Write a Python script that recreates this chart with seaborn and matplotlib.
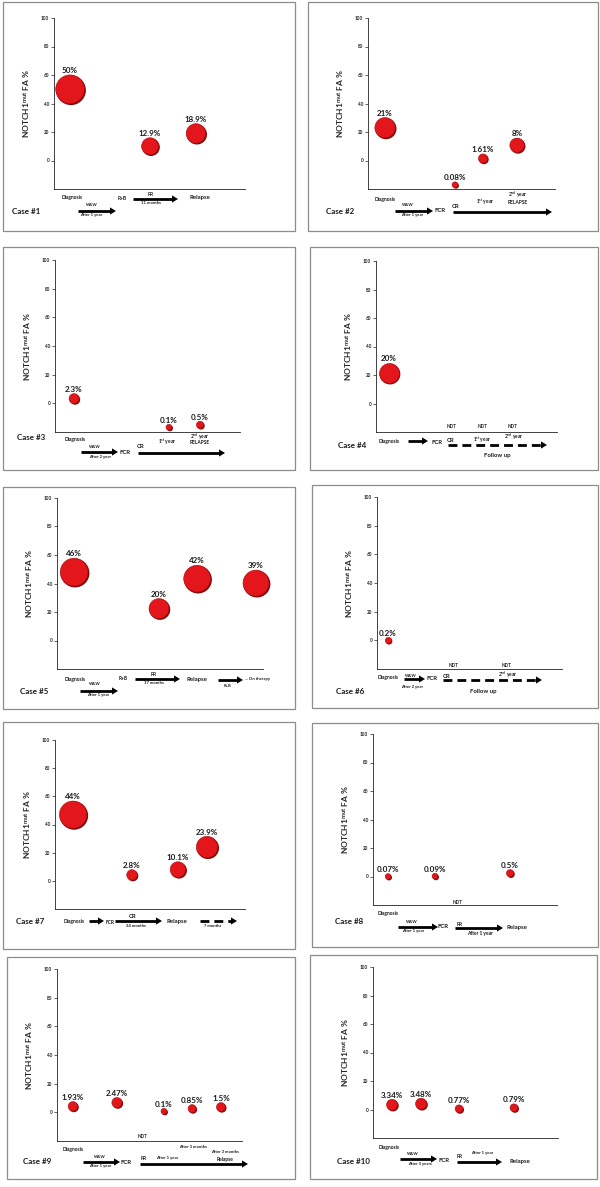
import numpy as np
import pandas as pd
import seaborn as sns
import matplotlib.pyplot as plt
from matplotlib import transforms
from matplotlib.patches import Rectangle, Polygon

sns.set_style("white")
plt.rcParams['font.family'] = ['Lato', 'DejaVu Sans']
plt.rcParams['mathtext.fontset'] = 'custom'
plt.rcParams['mathtext.rm'] = 'Lato'
plt.rcParams['mathtext.bf'] = 'Lato:bold'
plt.rcParams['mathtext.it'] = 'Lato:italic'

# ---- data: x = position on the timeline, y = plotted level, fa = NOTCH1 FA % label
case1_x = [0.84, 5.03, 7.43]
case1_y = [50, 10, 19]
case1_fa = [50, 12.9, 18.9]

case2_x = [0.91, 4.65, 6.15, 7.97]
case2_y = [23, -17, 1.4, 10.7]
case2_fa = [21, 0.08, 1.61, 8]

case3_x = [1.03, 6.16, 7.84]
case3_y = [3.3, -16.7, -15]
case3_fa = [2.3, 0.1, 0.5]

case4_x = [0.72]
case4_y = [21.3]
case4_fa = [20]

case5_x = [0.83, 4.95, 6.8, 9.66]
case5_y = [48, 22.4, 43.4, 40.3]
case5_fa = [46, 20, 42, 39]

case6_x = [0.6]
case6_y = [0]
case6_fa = [0.2]

case7_x = [0.95, 4.05, 6.47, 8.0]
case7_y = [47, 4.2, 8, 24]
case7_fa = [44, 2.8, 10.1, 23.9]

case8_x = [0.82, 3.37, 7.45]
case8_y = [0, 0.2, 2.3]
case8_fa = [0.07, 0.09, 0.5]

case9_x = [0.86, 3.24, 5.78, 7.3, 8.86]
case9_y = [4.2, 6.8, 0.7, 2.6, 3.7]
case9_fa = [1.93, 2.47, 0.1, 0.85, 1.5]

case10_x = [1.03, 2.6, 4.65, 7.62]
case10_y = [3.3, 4, 0.5, 1.2]
case10_fa = [3.34, 3.48, 0.77, 0.79]

# "NDT" (not detected) time points
ndt = {4: ([4.2, 5.9, 7.57], -16), 6: ([4.16, 7.03], -17.5),
       8: ([4.57], -18), 9: ([4.6], -17)}

cases = [(case1_x, case1_y, case1_fa), (case2_x, case2_y, case2_fa),
         (case3_x, case3_y, case3_fa), (case4_x, case4_y, case4_fa),
         (case5_x, case5_y, case5_fa), (case6_x, case6_y, case6_fa),
         (case7_x, case7_y, case7_fa), (case8_x, case8_y, case8_fa),
         (case9_x, case9_y, case9_fa), (case10_x, case10_y, case10_fa)]

# ---- layout in pixels (x0, y_top, x1, y_bottom)
W, H = 600, 1187
axes_px = [(54, 18, 245, 189), (368, 18, 555, 189),
           (55, 260, 240, 432), (376, 261, 557, 432),
           (57, 498, 263, 669), (377, 497, 562, 669),
           (55, 740, 245, 909), (373, 734, 557, 905),
           (57, 969, 242, 1141), (373, 967, 558, 1138)]
box_px = [(3, 2, 295, 231), (308, 2, 598, 231),
          (3, 247, 295, 470), (310, 247, 598, 470),
          (3, 487, 295, 709), (312, 485, 598, 708),
          (3, 722, 295, 949), (312, 723, 598, 947),
          (7, 957, 295, 1179), (310, 955, 597, 1179)]

fig = plt.figure(figsize=(6, 11.87), dpi=100)
fig.patch.set_facecolor('white')

for i, ((xs, ys, fa), (x0, yt, x1, yb)) in enumerate(zip(cases, axes_px)):
    ax = fig.add_axes([x0 / W, 1 - yb / H, (x1 - x0) / W, (yb - yt) / H])
    df = pd.DataFrame({'x': xs, 'y': ys, 'fa': fa})
    diam_px = 5 + 3.5 * np.sqrt(df['fa'])
    area = (diam_px * 0.72) ** 2
    shadow = transforms.offset_copy(ax.transData, fig=fig, x=0.7, y=-0.7, units='points')
    sns.scatterplot(data=df, x='x', y='y', s=area, color='#7d0a0a', edgecolor='none',
                    transform=shadow, ax=ax, legend=False, zorder=3, clip_on=False)
    sns.scatterplot(data=df, x='x', y='y', s=area * 0.93, color='#e3161c', edgecolor='#a50d10',
                    linewidth=0.4, ax=ax, legend=False, zorder=4, clip_on=False)
    for xv, yv, v, d in zip(df['x'], df['y'], df['fa'], diam_px):
        ax.annotate(f"{v:g}%", (xv, yv), xytext=(0, d * 0.72 / 2 + 0.3), textcoords='offset points',
                    ha='center', va='bottom', fontsize=5.8, fontweight='bold', color='#1a1a1a')
    if i + 1 in ndt:
        nx, ny = ndt[i + 1]
        for xv in nx:
            ax.text(xv, ny, 'NDT', ha='center', va='center', fontsize=3.3, fontweight='bold', color='#222')
    ax.set_xlim(0, 10)
    ax.set_ylim(-20, 100)
    ax.set_yticks(range(0, 101, 20))
    ax.set_xticks([])
    ax.set_xlabel('')
    ax.set_facecolor('none')
    for s in ['top', 'right']:
        ax.spines[s].set_visible(False)
    for s in ['left', 'bottom']:
        ax.spines[s].set_linewidth(0.6)
        ax.spines[s].set_color('#222')
    ax.tick_params(axis='y', left=True, length=2, width=0.5, labelsize=3.3, pad=1.5, colors='#222')
    for lab in ax.get_yticklabels():
        lab.set_fontweight('bold')
    ax.set_ylabel(r"NOTCH1$^{\mathbf{mut}}$ FA %", fontsize=6, fontweight='bold', labelpad=6)

# ---- overlay for boxes and timelines (pixel coordinates)
ov = fig.add_axes([0, 0, 1, 1], zorder=10)
ov.set_xlim(0, W)
ov.set_ylim(H, 0)
ov.axis('off')
ov.patch.set_alpha(0)

for (bx0, by0, bx1, by1) in box_px:
    ov.add_patch(Rectangle((bx0, by0), bx1 - bx0, by1 - by0, fill=False, ec='#8c8c8c', lw=0.9))

XS, S, M = 3.0, 3.5, 4.3


def arrow(x0, x1, y, dashed=False):
    hl, hw = 6, 3.6
    if dashed:
        ov.plot([x0, x1 - hl], [y, y], color='k', lw=2.0, dashes=(3.2, 1.8), solid_capstyle='butt')
    else:
        ov.plot([x0, x1 - hl + 0.5], [y, y], color='k', lw=2.0, solid_capstyle='butt')
    ov.add_patch(Polygon([(x1 - hl, y - hw), (x1, y), (x1 - hl, y + hw)], closed=True, color='k', lw=0))


def txt(x, y, s, size, ha='center'):
    ov.text(x, y, s, ha=ha, va='center', fontsize=size, fontweight='bold', color='#1a1a1a')


st = r"1$^{\mathbf{st}}$ year"
nd = r"2$^{\mathbf{nd}}$ year"

# case 1
txt(12, 211, 'Case #1', 5.8, 'left')
txt(72, 198, 'Diagnosis', S); txt(122, 198, 'R+B', S); txt(151, 195, 'PR', S)
txt(151, 203, '11 months', XS); txt(200, 198, 'Relapse', M)
txt(92, 205, 'W&W', XS); txt(91, 215, 'After 1 year', XS)
arrow(133, 178, 199); arrow(78, 116, 211)

# case 2
txt(326, 211, 'Case #2', 5.8, 'left')
txt(385, 199, 'Diagnosis', S); txt(408, 205, 'W&W', XS); txt(412, 215, 'After 1 year', XS)
txt(440, 211, 'FCR', M); txt(456, 206, 'CR', M); txt(485, 202, st, S)
txt(518, 195, nd, S); txt(518, 202, 'RELAPSE', S)
arrow(395, 433, 211); arrow(453, 552, 212)

# case 3
txt(17, 437, 'Case #3', 5.8, 'left')
txt(75, 440, 'Diagnosis', S); txt(95, 447, 'W&W', XS); txt(100, 457, 'After 2 year', XS)
txt(125, 452, 'FCR', M); txt(141, 446, 'CR', M); txt(167, 442, st, S)
txt(200, 437, nd, S); txt(200, 443, 'RELAPSE', S)
arrow(81, 118, 452); arrow(138, 225, 453)

# case 4
txt(338, 446, 'Case #4', 5.8, 'left')
txt(389, 441, 'Diagnosis', S); txt(437, 442, 'FCR', M); txt(451, 440, 'CR', M)
txt(482, 440, st, S); txt(514, 437, nd, S); txt(497, 455, 'Follow up', M)
arrow(408, 428, 441); arrow(448, 547, 445, dashed=True)

# case 5
txt(20, 691, 'Case #5', 5.8, 'left')
txt(75, 679, 'Diagnosis', S); txt(95, 684, 'W&W', XS); txt(98, 695, 'After 1 year', XS)
txt(123, 679, 'R+B', S); txt(154, 675, 'PR', S); txt(154, 683, '17 months', XS)
txt(197, 679, 'Relapse', M); txt(227, 686, 'R+B', XS); txt(245, 679, '... On therapy', XS, 'left')
arrow(80, 118, 691); arrow(135, 180, 679); arrow(218, 243, 680)

# case 6
txt(336, 691, 'Case #6', 5.8, 'left')
txt(388, 678, 'Diagnosis', S); txt(411, 676, 'W&W', XS); txt(412, 687, 'After 2 year', XS)
txt(432, 679, 'FCR', M); txt(447, 676, 'CR', M); txt(508, 675, nd, S); txt(483, 691, 'Follow up', M)
arrow(404, 425, 679); arrow(443, 542, 680, dashed=True)

# case 7
txt(16, 921, 'Case #7', 5.8, 'left')
txt(74, 921, 'Diagnosis', S); txt(110, 922, 'FCR', S); txt(133, 916, 'CR', M)
txt(136, 926, '24 months', XS); txt(177, 921, 'Relapse', M); txt(213, 926, '7 months', XS)
arrow(89, 104, 921); arrow(115, 162, 921); arrow(200, 237, 921, dashed=True)

# case 8
txt(335, 922, 'Case #8', 5.8, 'left')
txt(388, 914, 'Diagnosis', S); txt(412, 922, 'W&W', XS); txt(413, 931, 'After 1 year', XS)
txt(443, 927, 'FCR', M); txt(460, 924, 'PR', S); txt(480, 933, 'After 1 year', S)
txt(517, 928, 'Relapse', M)
arrow(398, 438, 927); arrow(455, 503, 928)

# case 9
txt(23, 1161, 'Case #9', 5.8, 'left')
txt(73, 1149, 'Diagnosis', S); txt(100, 1157, 'W&W', XS); txt(100, 1166, 'After 1 year', XS)
txt(126, 1162, 'FCR', M); txt(144, 1158, 'PR', S); txt(167, 1158, 'After 1 year', XS)
txt(193, 1147, 'After 3 months', XS); txt(225, 1152, 'After 3 months', XS); txt(225, 1159, 'Relapse', S)
arrow(83, 120, 1162); arrow(140, 248, 1164)

# case 10
txt(337, 1161, 'Case #10', 5.8, 'left')
txt(389, 1147, 'Diagnosis', S); txt(413, 1154, 'W&W', XS); txt(420, 1164, 'After 3 years', XS)
txt(444, 1160, 'FCR', M); txt(460, 1157, 'PR', S); txt(482, 1153, 'After 1 year', XS)
txt(520, 1161, 'Relapse', M)
arrow(400, 437, 1159); arrow(457, 502, 1162)

plt.savefig("out.png", dpi=100)
